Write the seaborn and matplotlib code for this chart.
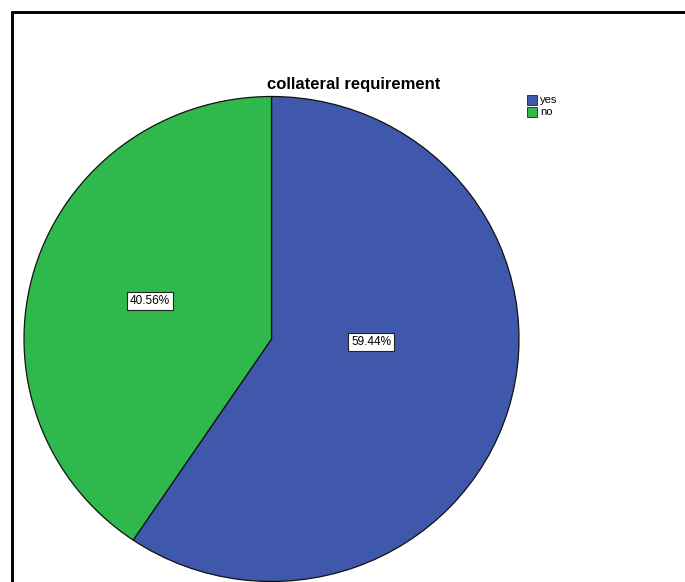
import matplotlib
matplotlib.use("Agg")
import matplotlib.pyplot as plt
from matplotlib.lines import Line2D
from matplotlib.patches import Rectangle
import seaborn as sns

sns.set_theme(style="white")
plt.rcParams["font.family"] = ["Liberation Sans", "DejaVu Sans"]

title = "collateral requirement"
categories = ["yes", "no"]
percentages = [59.44, 40.56]
colors = sns.color_palette(["#3f58ab", "#2fb84b"])

W, H = 685, 582
fig = plt.figure(figsize=(W / 100, H / 100), dpi=100)
fig.patch.set_facecolor("white")

# outer frame (left and top edges visible)
fig.add_artist(Line2D([12 / W, 12 / W], [0, 1 - 11.5 / H], color="black", lw=2.1,
                      transform=fig.transFigure))
fig.add_artist(Line2D([12 / W, 1], [1 - 11.5 / H, 1 - 11.5 / H], color="black", lw=2.1,
                      transform=fig.transFigure))

# pie: slightly wider than tall, so stretch the y data scale
cx, cy = 271.5, 339
rx, ry = 247.5, 242.5
k = rx / ry
pax = fig.add_axes([0, 0, 1, 1])
pax.pie(percentages, colors=colors, startangle=90, counterclock=False,
        center=(cx, (H - cy) * k), radius=rx,
        wedgeprops=dict(edgecolor="#111111", linewidth=0.9))
pax.set_aspect("auto")
pax.set_xlim(0, W)
pax.set_ylim(0, H * k)
pax.axis("off")

# overlay axes in pixel coordinates for text and legend
ax = fig.add_axes([0, 0, 1, 1])
ax.set_xlim(0, W)
ax.set_ylim(H, 0)
ax.axis("off")
ax.patch.set_alpha(0)

label_pos = [(371, 342), (150, 301)]
for (lx, ly), p in zip(label_pos, percentages):
    ax.text(lx, ly, f"{p:.2f}%", ha="center", va="center", fontsize=8.5,
            color="black",
            bbox=dict(boxstyle="square,pad=0.25", facecolor="white",
                      edgecolor="#222222", linewidth=0.8))

ax.text(354, 84, title, ha="center", va="center", fontsize=12,
        fontweight="bold", color="black")

# legend
for i, (cat, col) in enumerate(zip(categories, colors)):
    y0 = 95 + i * 12
    ax.add_patch(Rectangle((527, y0), 10, 10, facecolor=col,
                           edgecolor="#222222", linewidth=0.6))
    ax.text(540, y0 + 5, cat, ha="left", va="center", fontsize=8,
            color="black")

fig.savefig("out.png", dpi=100, facecolor="white")
